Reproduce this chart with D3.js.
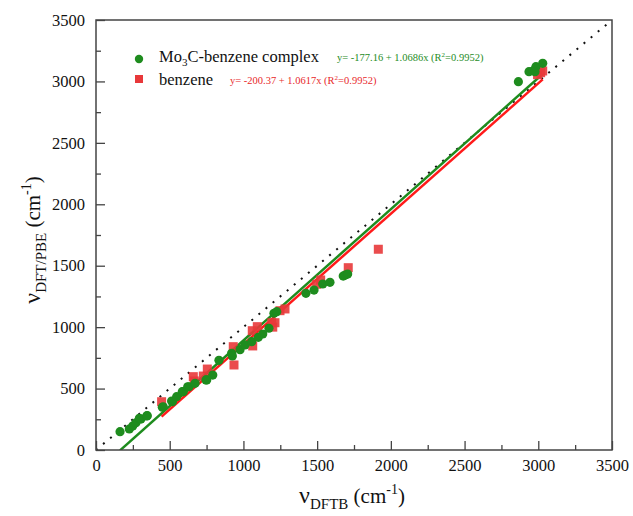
<!DOCTYPE html>
<html><head><meta charset="utf-8">
<script src="https://cdn.jsdelivr.net/npm/d3@7"></script>
<style>body{margin:0;background:#fff}svg{display:block}</style>
</head><body>
<svg id="chart" width="633" height="516"></svg>
<script>
// Mo3C-benzene complex (DFTB, DFT/PBE) frequencies
const complexX = [163,226,249,271,294,305,344,348,450,456,513,518,547,585,592,622,631,672,746,751,792,834,920,925,977,1011,1056,1101,1131,1173,1207,1226,1424,1479,1538,1587,1677,1690,1707,2865,2937,2966,2978,2984,3030];
const complexY = [149,171,195,222,258,252,277,279,348,352,399,393,434,475,475,515,515,543,570,570,610,730,787,765,817,855,882,917,944,991,1113,1126,1275,1302,1351,1365,1416,1424,1432,2998,3079,3087,3079,3120,3147];
// benzene
const benzX = [445,660,667,728,755,931,936,1060,1063,1094,1192,1199,1214,1248,1282,1497,1524,1711,1915,2995,3016,3030];
const benzY = [393,597,562,602,659,841,692,971,847,1004,1036,1000,1036,1134,1148,1349,1384,1484,1634,3055,3071,3085];
// linear fits
const fitComplex = {a:-177.16, b:1.0686, x0:163, x1:3030};
const fitBenz = {a:-200.37, b:1.0617, x0:445, x1:3030};
const ticks = [0,500,1000,1500,2000,2500,3000,3500];
const minorTicks = [250,750,1250,1750,2250,2750,3250];

const svg = d3.select("#chart");
const L=96, R=612, T=20, B=450;
const x = d3.scaleLinear().domain([0,3500]).range([L,R]);
const y = d3.scaleLinear().domain([0,3500]).range([B,T]);
const green="#1e8c1e", red="#e8383a";
const font="'Liberation Serif','Times New Roman',serif";

svg.append("clipPath").attr("id","clip").append("rect")
  .attr("x",L).attr("y",T).attr("width",R-L).attr("height",B-T);
const plot = svg.append("g").attr("clip-path","url(#clip)");

// y = x dotted diagonal
plot.append("line").attr("x1",x(0)).attr("y1",y(0)).attr("x2",x(3500)).attr("y2",y(3500))
  .attr("stroke","#111").attr("stroke-width",2).attr("stroke-dasharray","2,7.2");

// fit lines
[[fitComplex,green],[fitBenz,"#ff1a1a"]].forEach(([f,c])=>{
  plot.append("line").attr("x1",x(f.x0)).attr("y1",y(f.a+f.b*f.x0))
    .attr("x2",x(f.x1)).attr("y2",y(f.a+f.b*f.x1))
    .attr("stroke",c).attr("stroke-width",2.5);
});

// points
plot.selectAll(".sq").data(benzX).enter().append("rect")
  .attr("x",(d)=>x(d)-4.5).attr("y",(d,i)=>y(benzY[i])-4.5)
  .attr("width",9).attr("height",9).attr("fill",red).attr("fill-opacity",0.9);
plot.selectAll(".ci").data(complexX).enter().append("circle")
  .attr("cx",d=>x(d)).attr("cy",(d,i)=>y(complexY[i])).attr("r",4.6)
  .attr("fill",green);

// axes frame
svg.append("rect").attr("x",L).attr("y",T).attr("width",R-L).attr("height",B-T)
  .attr("fill","none").attr("stroke","#444").attr("stroke-width",1.5);

const xAxis = d3.axisBottom(x).tickValues(ticks).tickSize(-9).tickPadding(9).tickFormat(d3.format("d"));
const xMinor = d3.axisBottom(x).tickValues(minorTicks).tickSize(-5).tickFormat("");
const yAxis = d3.axisLeft(y).tickValues(ticks).tickSize(-9).tickPadding(11).tickFormat(d3.format("d"));
const yMinor = d3.axisLeft(y).tickValues(minorTicks).tickSize(-5).tickFormat("");
function style(g){
  g.select(".domain").remove();
  g.selectAll("line").attr("stroke","#444").attr("stroke-width",1.3);
  g.selectAll("text").attr("font-family",font).attr("font-size",16.5).attr("fill","#111");
}
svg.append("g").attr("transform",`translate(0,${B})`).call(xAxis).call(style);
svg.append("g").attr("transform",`translate(0,${B})`).call(xMinor).call(style);
svg.append("g").attr("transform",`translate(${L},0)`).call(yAxis).call(style);
svg.append("g").attr("transform",`translate(${L},0)`).call(yMinor).call(style);

// axis titles
const xt = svg.append("text").attr("x",352).attr("y",503).attr("text-anchor","middle")
  .attr("font-family",font).attr("font-size",21).attr("fill","#111");
xt.append("tspan").attr("font-size",24).text("ν");
xt.append("tspan").attr("font-size",15).attr("dy",6).text("DFTB");
xt.append("tspan").attr("dy",-6).text(" (cm");
xt.append("tspan").attr("font-size",14).attr("dy",-9).text("-1");
xt.append("tspan").attr("dy",9).text(")");

const yt = svg.append("text").attr("transform","translate(40,240) rotate(-90)").attr("text-anchor","middle")
  .attr("font-family",font).attr("font-size",21).attr("fill","#111");
yt.append("tspan").attr("font-size",24).text("ν");
yt.append("tspan").attr("font-size",15).attr("dy",6).text("DFT/PBE");
yt.append("tspan").attr("dy",-6).text(" (cm");
yt.append("tspan").attr("font-size",14).attr("dy",-9).text("-1");
yt.append("tspan").attr("dy",9).text(")");

// legend
svg.append("circle").attr("cx",139).attr("cy",59).attr("r",4.2).attr("fill",green);
svg.append("rect").attr("x",135).attr("y",75).attr("width",8).attr("height",8).attr("fill",red);
const l1 = svg.append("text").attr("x",159).attr("y",62).attr("font-family",font).attr("font-size",16.5).attr("fill","#111");
l1.append("tspan").text("Mo");
l1.append("tspan").attr("font-size",11).attr("dy",4).text("3");
l1.append("tspan").attr("dy",-4).text("C-benzene complex");
svg.append("text").attr("x",159).attr("y",85).attr("font-family",font).attr("font-size",16.5).attr("fill","#111").text("benzene");
const e1 = svg.append("text").attr("x",337).attr("y",61).attr("font-family",font).attr("font-size",10.5).attr("fill",green);
e1.append("tspan").text("y= -177.16 + 1.0686x (R");
e1.append("tspan").attr("font-size",7).attr("dy",-4).text("2");
e1.append("tspan").attr("dy",4).text("=0.9952)");
const e2 = svg.append("text").attr("x",230).attr("y",84).attr("font-family",font).attr("font-size",10.5).attr("fill","#e8282a");
e2.append("tspan").text("y= -200.37 + 1.0617x (R");
e2.append("tspan").attr("font-size",7).attr("dy",-4).text("2");
e2.append("tspan").attr("dy",4).text("=0.9952)");
</script>
</body></html>
